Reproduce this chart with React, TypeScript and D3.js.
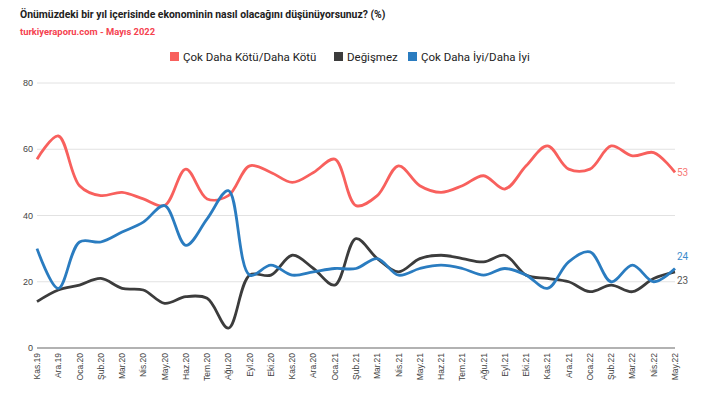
import React, { useEffect, useRef } from 'react';
import * as d3 from 'd3';

const months = [
  'Kas.19', 'Ara.19', 'Oca.20', 'Şub.20', 'Mar.20', 'Nis.20', 'May.20', 'Haz.20', 'Tem.20', 'Ağu.20',
  'Eyl.20', 'Eki.20', 'Kas.20', 'Ara.20', 'Oca.21', 'Şub.21', 'Mar.21', 'Nis.21', 'May.21', 'Haz.21',
  'Tem.21', 'Ağu.21', 'Eyl.21', 'Eki.21', 'Kas.21', 'Ara.21', 'Oca.22', 'Şub.22', 'Mar.22', 'Nis.22', 'May.22',
];
const worse = [57, 64, 49, 46, 47, 45, 43, 54, 45, 46, 55, 53, 50, 53, 57, 43, 46, 55, 49, 47, 49, 52, 48, 55, 61, 54, 54, 61, 58, 59, 53];
const same = [14, 17.5, 19, 21, 18, 17.5, 13.5, 15.5, 15, 6, 22, 22, 28, 24, 19, 33, 27, 23, 27, 28, 27, 26, 28, 22, 21, 20, 17, 19, 17, 21, 23];
const better = [30, 18, 32, 32, 35, 38, 43, 31, 39, 47.5, 22, 25, 22, 23, 24, 24, 27, 22, 24, 25, 24, 22, 24, 22, 18, 26, 29, 20, 25, 20, 24];
const yTicks = [0, 20, 40, 60, 80];

const series = [
  { name: 'Çok Daha Kötü/Daha Kötü', values: worse, color: '#f8605d', label: '53' },
  { name: 'Değişmez', values: same, color: '#3c3c3c', label: '23' },
  { name: 'Çok Daha İyi/Daha İyi', values: better, color: '#2a7cc0', label: '24' },
];

const App = () => {
  const ref = useRef<SVGSVGElement>(null);

  useEffect(() => {
    const svg = d3.select(ref.current);
    svg.selectAll('*').remove();

    const left = 37, right = 675, top = 83, bottom = 348;
    const x = d3.scalePoint<string>().domain(months).range([left, right]);
    const y = d3.scaleLinear().domain([0, 80]).range([bottom, top]);

    // titles
    svg.append('text')
      .attr('x', 20).attr('y', 18)
      .style('font-family', 'Roboto, sans-serif').style('font-weight', 'bold').style('font-size', '10.4px')
      .attr('fill', '#222')
      .text('Önümüzdeki bir yıl içerisinde ekonominin nasıl olacağını düşünüyorsunuz? (%)');
    svg.append('text')
      .attr('x', 20).attr('y', 35)
      .style('font-family', 'Roboto, sans-serif').style('font-weight', 'bold').style('font-size', '9.4px')
      .attr('fill', '#f5424f')
      .text('turkiyeraporu.com - Mayıs 2022');

    // legend
    const legendX = [170, 334, 408];
    series.forEach((s, i) => {
      const g = svg.append('g').attr('transform', `translate(${legendX[i]}, 57)`);
      g.append('rect').attr('x', 0).attr('y', -5).attr('width', 9).attr('height', 9).attr('fill', s.color);
      g.append('text').attr('x', 13).attr('y', 4)
        .style('font-family', 'Roboto, sans-serif').style('font-size', '11.5px').attr('fill', '#222')
        .text(s.name);
    });

    // grid
    svg.append('g').selectAll('line').data(yTicks.filter(d => d > 0)).join('line')
      .attr('x1', left).attr('x2', right)
      .attr('y1', d => y(d)).attr('y2', d => y(d))
      .attr('stroke', '#e2e2e2').attr('stroke-width', 1);
    svg.append('line')
      .attr('x1', left).attr('x2', right).attr('y1', y(0)).attr('y2', y(0))
      .attr('stroke', '#999').attr('stroke-width', 1.5);

    svg.append('g').selectAll('text').data(yTicks).join('text')
      .attr('x', left - 4).attr('y', d => y(d) + 3)
      .attr('text-anchor', 'end')
      .style('font-family', 'Liberation Sans, Arial, sans-serif').style('font-size', '9px')
      .attr('fill', '#444')
      .text(d => d);

    svg.append('g').selectAll('text').data(months).join('text')
      .attr('transform', d => `translate(${(x(d) as number) + 3}, ${bottom + 5}) rotate(-90)`)
      .attr('text-anchor', 'end')
      .style('font-family', 'Liberation Sans, Arial, sans-serif').style('font-size', '8.5px')
      .attr('fill', '#444')
      .text(d => d);

    // lines
    const line = d3.line<number>()
      .x((_, i) => x(months[i]) as number)
      .y(d => y(d))
      .curve(d3.curveCatmullRom.alpha(0.5));

    series.forEach(s => {
      svg.append('path')
        .attr('d', line(s.values))
        .attr('fill', 'none')
        .attr('stroke', s.color)
        .attr('stroke-width', 2.8)
        .attr('stroke-linejoin', 'round');
    });

    // end labels
    const lastX = x(months[months.length - 1]) as number;
    const labelY = [y(worse[30]) + 4, y(same[30]) + 12, y(better[30]) - 9];
    series.forEach((s, i) => {
      svg.append('text')
        .attr('x', lastX + 2).attr('y', labelY[i])
        .style('font-family', 'Roboto, sans-serif').style('font-size', '10px')
        .attr('fill', i === 1 ? '#555' : i === 0 ? '#f87a77' : '#3b8ccc')
        .text(s.label);
    });
  }, []);

  return <svg ref={ref} width={703} height={397} style={{ position: 'absolute', left: 0, top: 0 }} />;
};

export default App;
